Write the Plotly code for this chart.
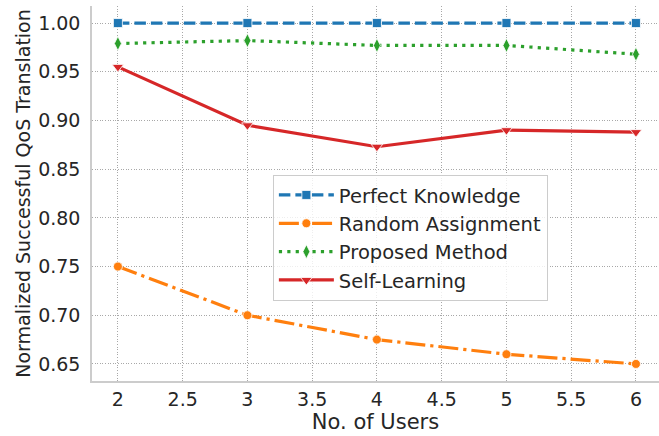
import plotly.graph_objects as go

users = [2, 3, 4, 5, 6]
perfect = [1.0, 1.0, 1.0, 1.0, 1.0]
random_assign = [0.750, 0.700, 0.675, 0.660, 0.650]
proposed = [0.979, 0.982, 0.977, 0.977, 0.968]
self_learning = [0.955, 0.895, 0.873, 0.890, 0.888]

series = [
    ("Perfect Knowledge", perfect, "#1f77b4", "11.5px,5px", "square", 9),
    ("Random Assignment", random_assign, "#ff7f0e", "20px,5px,3.2px,5px", "circle", 9),
    ("Proposed Method", proposed, "#2ca02c", "3.2px,5.2px", "diamond-tall", 10),
    ("Self-Learning", self_learning, "#d62728", "solid", "triangle-down", 10),
]

fig = go.Figure()
for name, vals, color, dash, sym, ms in series:
    fig.add_trace(go.Scatter(
        x=users, y=vals, name=name, mode="lines+markers",
        line=dict(color=color, width=3.2, dash=dash),
        marker=dict(symbol=sym, size=ms, color=color, line=dict(color="white", width=0.8)),
    ))

axis_common = dict(
    showgrid=True, gridcolor="#a8a8a8", griddash="1px,1.6px", gridwidth=1,
    showline=True, linecolor="#cccccc", linewidth=1.5,
    zeroline=False, ticks="", tickfont=dict(size=19, color="#262626"),
    mirror=False, automargin=False,
)

fig.update_layout(
    width=659, height=436,
    margin=dict(l=92, r=0, t=6, b=55),
    paper_bgcolor="white", plot_bgcolor="white",
    font=dict(family="DejaVu Sans", color="#262626"),
    xaxis=dict(range=[1.8, 6.178], tickvals=[2, 2.5, 3, 3.5, 4, 4.5, 5, 5.5, 6],
               ticktext=["2", "2.5", "3", "3.5", "4", "4.5", "5", "5.5", "6"],
               ticklabelstandoff=0,
               title=dict(text="No. of Users", font=dict(size=21), standoff=0), **axis_common),
    yaxis=dict(range=[0.6325, 1.0175], tickvals=[0.65, 0.70, 0.75, 0.80, 0.85, 0.90, 0.95, 1.00],
               tickformat=".2f", ticklabelstandoff=6,
               title=dict(text="Normalized Successful QoS Translation", font=dict(size=19), standoff=2),
               **axis_common),
    legend=dict(x=0.319, y=0.55, xanchor="left", yanchor="top",
                bgcolor="rgba(255,255,255,0.8)", bordercolor="#cccccc", borderwidth=1,
                font=dict(size=19.5, color="#262626"), tracegroupgap=0, itemwidth=55),
    showlegend=True,
)

fig.write_html("out.html", config={"displayModeBar": False},
               post_script="document.body.style.margin='0';")
